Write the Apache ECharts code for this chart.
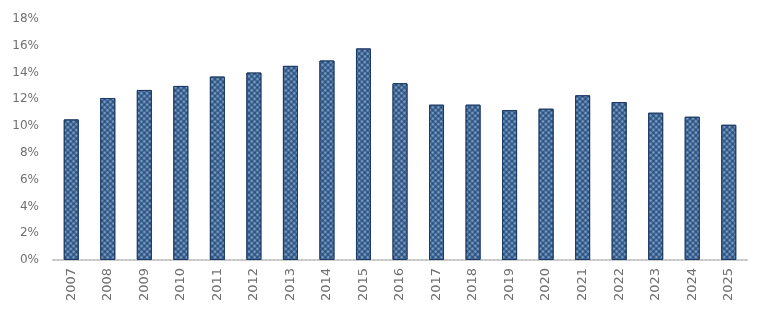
<!DOCTYPE html>
<html>
<head>
<meta charset="utf-8">
<script src="https://cdn.jsdelivr.net/npm/echarts@6/dist/echarts.min.js"></script>
<style>html,body{margin:0;padding:0;background:#fff}#c{width:765px;height:314px}</style>
</head>
<body>
<div id="c"></div>
<script>
const years = ['2007','2008','2009','2010','2011','2012','2013','2014','2015','2016','2017','2018','2019','2020','2021','2022','2023','2024','2025'];
const values = [10.5, 12.1, 12.7, 13.0, 13.7, 14.0, 14.5, 14.9, 15.8, 13.2, 11.6, 11.6, 11.2, 11.3, 12.3, 11.8, 11.0, 10.7, 10.1];
const yTicks = [0, 2, 4, 6, 8, 10, 12, 14, 16, 18];

const chart = echarts.init(document.getElementById('c'), null, {renderer: 'canvas'});
chart.setOption({
  animation: false,
  grid: {left: 53, right: 18, top: 19, bottom: 54, containLabel: false},
  xAxis: {
    type: 'category',
    data: years,
    axisLine: {show: true, lineStyle: {color: '#c4c4c4', width: 2, type: 'dotted'}},
    axisTick: {show: false},
    axisLabel: {rotate: 90, margin: 8, color: '#707070', fontSize: 13, fontFamily: 'DejaVu Sans'}
  },
  yAxis: {
    type: 'value',
    min: yTicks[0],
    max: yTicks[yTicks.length - 1],
    interval: 2,
    splitLine: {show: false},
    axisLine: {show: false},
    axisTick: {show: false},
    axisLabel: {formatter: '{value}%', margin: 14, color: '#707070', fontSize: 12, fontFamily: 'DejaVu Sans'}
  },
  series: [{
    type: 'bar',
    data: values,
    barWidth: 15,
    itemStyle: {
      color: '#28507f',
      borderColor: '#1d3a66',
      borderWidth: 1,
      decal: {
        symbol: 'circle',
        symbolSize: 0.75,
        color: 'rgba(150,180,215,0.75)',
        dashArrayX: [[4, 0]],
        dashArrayY: [4, 0],
        rotation: 0.785
      }
    }
  }]
});
</script>
</body>
</html>
